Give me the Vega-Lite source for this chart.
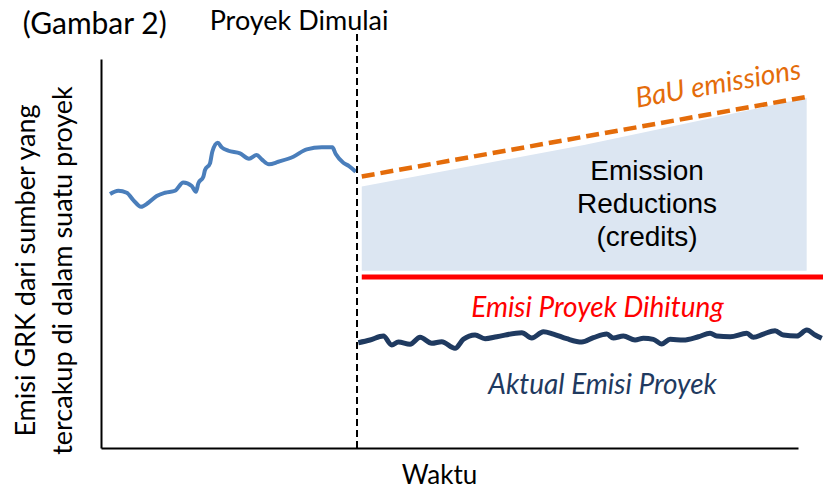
{
  "$schema": "https://vega.github.io/schema/vega-lite/v6.json",
  "width": 697,
  "height": 389,
  "autosize": {"type": "none"},
  "padding": {"left": 101, "top": 59, "right": 25, "bottom": 42},
  "background": "#ffffff",
  "config": {"view": {"stroke": null}},
  "encoding": {
    "x": {
      "field": "t", "type": "quantitative",
      "scale": {"domain": [0, 99.7], "nice": false, "zero": false},
      "axis": {
        "title": "Waktu", "labels": false, "ticks": false, "grid": false,
        "domainColor": "#000000", "domainWidth": 2,
        "titleFont": "Lato", "titleFontSize": 26, "titleFontWeight": "normal", "titleColor": "#000000",
        "titleX": 338, "titleY": 27, "titleBaseline": "middle", "titleAlign": "center"
      }
    },
    "y": {
      "field": "v", "type": "quantitative",
      "scale": {"domain": [0, 100.8], "nice": false, "zero": false},
      "axis": {
        "title": ["Emisi GRK dari sumber yang", "tercakup di dalam suatu proyek"],
        "labels": false, "ticks": false, "grid": false,
        "domainColor": "#000000", "domainWidth": 2,
        "titleFont": "Lato", "titleFontSize": 27, "titleFontWeight": "normal", "titleColor": "#000000",
        "titleX": -75, "titleY": 211, "titleBaseline": "middle", "titleAlign": "center",
        "titleAngle": -90, "titleLineHeight": 37
      }
    }
  },
  "layer": [
    {
      "data": {"values": [
        {"t": 37.3, "v": 67.77, "lo": 45.96},
        {"t": 69.1, "v": 78.5, "lo": 45.96},
        {"t": 100.94, "v": 90.73, "lo": 45.96}
      ]},
      "mark": {"type": "area", "color": "#DCE6F2", "opacity": 1},
      "encoding": {"y2": {"field": "lo"}}
    },
    {
      "data": {"values": [
        {"t": 37.3, "v": 70.36},
        {"t": 100.94, "v": 90.98}
      ]},
      "mark": {"type": "line", "color": "#E46C0A", "strokeWidth": 4.5, "strokeDash": [13, 6]}
    },
    {
      "data": {"values": [
        {"t": 37.3, "v": 44.3},
        {"t": 103.3, "v": 44.3}
      ]},
      "mark": {"type": "line", "color": "#FF0000", "strokeWidth": 5}
    },
    {
      "data": {"values": [
        {"t": 1.29, "v": 65.80}, {"t": 2.47, "v": 66.66}, {"t": 3.68, "v": 66.14}, {"t": 4.62, "v": 64.25},
        {"t": 5.72, "v": 62.51}, {"t": 6.77, "v": 63.55}, {"t": 7.97, "v": 65.28}, {"t": 9.16, "v": 66.14},
        {"t": 10.59, "v": 66.66}, {"t": 11.77, "v": 68.83}, {"t": 12.98, "v": 67.88}, {"t": 13.59, "v": 66.40},
        {"t": 13.92, "v": 68.58}, {"t": 14.64, "v": 70.29}, {"t": 14.88, "v": 72.02}, {"t": 15.59, "v": 73.76},
        {"t": 15.92, "v": 76.76}, {"t": 16.70, "v": 79.09}, {"t": 17.27, "v": 77.90}, {"t": 18.21, "v": 77.02},
        {"t": 19.89, "v": 76.35}, {"t": 21.17, "v": 74.97}, {"t": 22.27, "v": 75.91}, {"t": 22.99, "v": 74.79},
        {"t": 24.03, "v": 73.50}, {"t": 25.36, "v": 74.17}, {"t": 27.51, "v": 75.47}, {"t": 29.43, "v": 77.38},
        {"t": 31.57, "v": 77.90}, {"t": 33.09, "v": 77.90}, {"t": 33.58, "v": 76.17}, {"t": 34.66, "v": 73.91},
        {"t": 35.48, "v": 73.06}, {"t": 36.44, "v": 71.58}
      ]},
      "mark": {"type": "line", "color": "#4A7EBB", "strokeWidth": 4, "interpolate": "monotone"}
    },
    {
      "data": {"values": [
        {"t": 36.81, "v": 27.28}, {"t": 38.48, "v": 27.98}, {"t": 40.39, "v": 29.02}, {"t": 41.59, "v": 26.68},
        {"t": 42.53, "v": 27.46}, {"t": 44.21, "v": 26.87}, {"t": 45.64, "v": 28.68}, {"t": 47.31, "v": 27.12},
        {"t": 48.74, "v": 27.54}, {"t": 50.64, "v": 25.83}, {"t": 51.83, "v": 28.16}, {"t": 53.51, "v": 29.27},
        {"t": 54.94, "v": 28.32}, {"t": 56.61, "v": 28.83}, {"t": 60.19, "v": 29.87}, {"t": 61.62, "v": 28.50},
        {"t": 63.28, "v": 30.13}, {"t": 64.71, "v": 29.53}, {"t": 66.62, "v": 28.32}, {"t": 68.77, "v": 27.46},
        {"t": 70.43, "v": 28.58}, {"t": 72.35, "v": 29.53}, {"t": 73.29, "v": 28.50}, {"t": 74.72, "v": 29.02},
        {"t": 76.39, "v": 27.98}, {"t": 77.58, "v": 28.42}, {"t": 79.01, "v": 28.16}, {"t": 80.21, "v": 26.94},
        {"t": 81.40, "v": 28.16}, {"t": 83.30, "v": 27.98}, {"t": 85.45, "v": 28.83}, {"t": 87.12, "v": 29.72},
        {"t": 88.08, "v": 29.02}, {"t": 89.99, "v": 28.83}, {"t": 92.37, "v": 29.72}, {"t": 93.32, "v": 28.68},
        {"t": 94.75, "v": 29.53}, {"t": 96.42, "v": 30.39}, {"t": 97.61, "v": 29.27}, {"t": 99.53, "v": 29.02},
        {"t": 100.96, "v": 30.57}, {"t": 102.15, "v": 29.27}, {"t": 103.10, "v": 28.42}
      ]},
      "mark": {"type": "line", "color": "#1F3A60", "strokeWidth": 5, "interpolate": "monotone"}
    },
    {
      "data": {"values": [{"t": 36.62, "v": 0, "v2": 108.3}]},
      "mark": {"type": "rule", "color": "#000000", "strokeWidth": 2, "strokeDash": [7, 4]},
      "encoding": {"y2": {"field": "v2"}}
    },
    {
      "data": {"values": [{"t": -0.9, "v": 109.6, "label": "(Gambar 2)"}]},
      "mark": {"type": "text", "font": "Lato", "fontSize": 30, "color": "#000000", "align": "center", "baseline": "middle"},
      "encoding": {"text": {"field": "label"}}
    },
    {
      "data": {"values": [{"t": 28.33, "v": 110.4, "label": "Proyek Dimulai"}]},
      "mark": {"type": "text", "font": "Lato", "fontSize": 27, "color": "#000000", "align": "center", "baseline": "middle"},
      "encoding": {"text": {"field": "label"}}
    },
    {
      "data": {"values": [{"t": 88.3, "v": 94.0, "label": "BaU emissions"}]},
      "mark": {"type": "text", "font": "Lato", "fontSize": 28, "fontStyle": "italic", "color": "#E46C0A", "align": "center", "baseline": "middle", "angle": -10},
      "encoding": {"text": {"field": "label"}}
    },
    {
      "data": {"values": [{"t": 78.11, "v": 71.58, "label": "Emission\nReductions\n(credits)"}]},
      "mark": {"type": "text", "font": "Liberation Sans", "fontSize": 28, "color": "#000000", "align": "center", "baseline": "middle", "lineBreak": "\n", "lineHeight": 33},
      "encoding": {"text": {"field": "label"}}
    },
    {
      "data": {"values": [{"t": 71.03, "v": 36.01, "label": "Emisi Proyek Dihitung"}]},
      "mark": {"type": "text", "font": "Lato", "fontSize": 28, "fontStyle": "italic", "color": "#FF0000", "align": "center", "baseline": "middle"},
      "encoding": {"text": {"field": "label"}}
    },
    {
      "data": {"values": [{"t": 71.75, "v": 16.06, "label": "Aktual Emisi Proyek"}]},
      "mark": {"type": "text", "font": "Lato", "fontSize": 28, "fontStyle": "italic", "color": "#1F3A60", "align": "center", "baseline": "middle"},
      "encoding": {"text": {"field": "label"}}
    }
  ]
}
